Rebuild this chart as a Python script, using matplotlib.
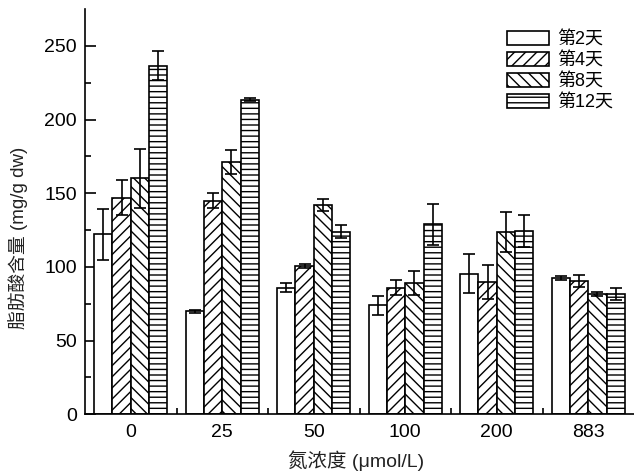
import matplotlib
matplotlib.use("Agg")
import matplotlib.pyplot as plt
import numpy as np

plt.rcParams['font.family'] = ['Liberation Sans', 'Noto Sans CJK SC', 'DejaVu Sans']
plt.rcParams['hatch.linewidth'] = 1.0

categories = ['0', '25', '50', '100', '200', '883']
series_names = ['第2天', '第4天', '第8天', '第12天']
day2 = [122, 70, 86, 74, 95.5, 92.3]
day4 = [147, 145, 100.7, 86, 90, 90.5]
day8 = [160, 171, 142, 89, 123.5, 81.5]
day12 = [236.5, 213.5, 124, 129, 124.5, 81.8]
err2 = [17.5, 1, 3, 6.5, 13.5, 1.3]
err4 = [12, 5, 1.5, 5, 11.5, 4]
err8 = [20, 8, 4, 8, 13.5, 1.5]
err12 = [10, 1, 4.5, 14, 11, 4]

values = [day2, day4, day8, day12]
errors = [err2, err4, err8, err12]
hatches = ['', '///', '\\\\\\', '---']

fig = plt.figure(figsize=(6.34, 4.73), dpi=100)
ax = fig.add_axes([85 / 634, 1 - 414.3 / 473, 1 - 85 / 634, (414.3 - 9) / 473])

x = np.arange(len(categories))
w = 0.2
for i, (vals, errs, h, name) in enumerate(zip(values, errors, hatches, series_names)):
    pos = x + (i - 1.5) * w
    ax.bar(pos, vals, width=w, facecolor='white', edgecolor='black',
           linewidth=1.2, hatch=h, label=name, zorder=2)
    ax.errorbar(pos, vals, yerr=errs, fmt='none', ecolor='black',
                elinewidth=1.2, capsize=4, capthick=1.2, zorder=3)

ax.set_xlim(-0.5, 5.5)
ax.set_ylim(0, 275)
ax.set_yticks([0, 50, 100, 150, 200, 250])
ax.set_yticks(np.arange(25, 275, 50), minor=True)
ax.set_xticks(x)
ax.set_xticklabels(categories)
ax.set_xticks(np.arange(0.5, 5.5, 1), minor=True)
ax.tick_params(axis='y', which='major', direction='in', length=8, width=1.2, labelsize=14, pad=6)
ax.tick_params(axis='y', which='minor', direction='in', length=4, width=1.2)
ax.tick_params(axis='x', which='major', length=0, labelsize=14, pad=7)
ax.tick_params(axis='x', which='minor', direction='in', length=4, width=1.2)

for s in ['top', 'right']:
    ax.spines[s].set_visible(False)
for s in ['left', 'bottom']:
    ax.spines[s].set_linewidth(1.2)

ax.set_xlabel('氮浓度 (μmol/L)', fontsize=14, color='#222222')
ax.set_ylabel('脂肪酸含量 (mg/g dw)', fontsize=13.5, color='#222222')
ax.xaxis.set_label_coords((355.7 - 85) / (634 - 85), (414.3 - 450) / 405.3)
ax.yaxis.set_label_coords((28 - 85) / (634 - 85), (414.3 - 237.5) / 405.3)

leg = ax.legend(loc='upper left', bbox_to_anchor=((507 - 85) / 549, (414.3 - 31) / 405.3),
                frameon=False, fontsize=13, handlelength=2.3, handleheight=0.8,
                labelspacing=0.22, handletextpad=0.5, borderpad=0, borderaxespad=0)

fig.savefig('out.png', dpi=100)
